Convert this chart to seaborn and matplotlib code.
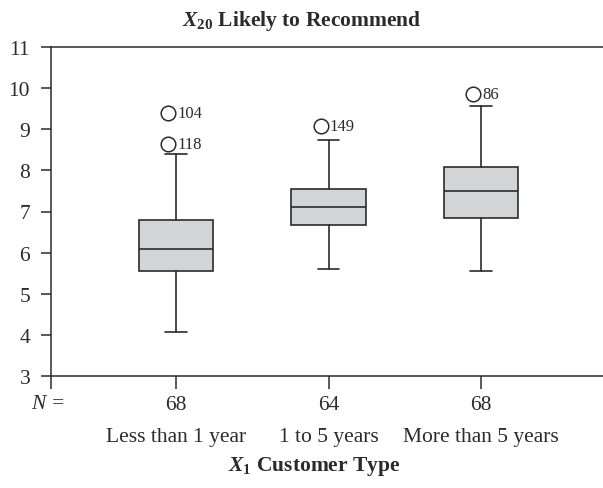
import matplotlib
matplotlib.use("Agg")
import matplotlib.pyplot as plt
import matplotlib.transforms as mtransforms
import seaborn as sns

# Summary statistics of X20 (Likely to Recommend) by customer type
categories = ["Less than 1 year", "1 to 5 years", "More than 5 years"]
counts = [68, 64, 68]
q1 = [5.55, 6.68, 6.84]
medians = [6.10, 7.10, 7.50]
q3 = [6.80, 7.55, 8.09]
whisker_low = [4.07, 5.60, 5.55]
whisker_high = [8.40, 8.75, 9.56]
outlier_values = [[9.40, 8.65], [9.08], [9.85]]
outlier_ids = [["104", "118"], ["149"], ["86"]]
y_ticks = [3, 4, 5, 6, 7, 8, 9, 10, 11]

sns.set_theme(style="ticks")
plt.rcParams["font.family"] = ["Liberation Serif", "DejaVu Serif"]
plt.rcParams["mathtext.fontset"] = "custom"
plt.rcParams["mathtext.rm"] = "Liberation Serif:bold"
plt.rcParams["mathtext.it"] = "Liberation Serif:italic:bold"
plt.rcParams["mathtext.bf"] = "Liberation Serif:bold"

ink = "#2b2b2b"
fs = 15.5
fig = plt.figure(figsize=(6.03, 4.89), dpi=100)
ax = fig.add_axes([51 / 603, 1 - 377 / 489, 552 / 603, 329 / 489])

stats = []
for i in range(len(categories)):
    stats.append({
        "label": categories[i],
        "q1": q1[i], "med": medians[i], "q3": q3[i],
        "whislo": whisker_low[i], "whishi": whisker_high[i],
        "fliers": [],
    })

positions = list(range(len(categories)))
ax.bxp(
    stats, positions=positions, widths=0.49, capwidths=0.14,
    patch_artist=True, manage_ticks=False, showfliers=False,
    boxprops=dict(facecolor="#d3d4d6", edgecolor=ink, linewidth=1.2),
    medianprops=dict(color=ink, linewidth=1.2),
    whiskerprops=dict(color=ink, linewidth=1.2),
    capprops=dict(color=ink, linewidth=1.2),
)

# Outlying cases: open circle set just left of the whisker line, case number to the right
shift = ax.transData + mtransforms.ScaledTranslation(-8 / 100, 0, fig.dpi_scale_trans)
for pos, vals, ids in zip(positions, outlier_values, outlier_ids):
    ax.plot([pos] * len(vals), vals, linestyle="none", marker="o", markersize=10.5,
            markerfacecolor="none", markeredgecolor=ink, markeredgewidth=1.1,
            transform=shift)
    for v, case in zip(vals, ids):
        ax.annotate(case, (pos, v), xytext=(1, 0), textcoords="offset points",
                    va="center", ha="left", fontsize=12, color=ink)

xmin, xmax = -0.82, 2.80
ax.set_xlim(xmin, xmax)
ax.set_ylim(3, 11)
ax.set_yticks(y_ticks)
ax.set_yticklabels([str(t) for t in y_ticks], fontsize=fs, color=ink)
ax.set_xticks([xmin] + positions)
ax.set_xticklabels([""] + [str(n) for n in counts], fontsize=fs, color=ink)
ax.tick_params(axis="y", length=7, width=1.1, pad=8, color=ink)
ax.tick_params(axis="x", length=9, width=1.1, pad=5, color=ink)

for side in ["left", "top", "bottom"]:
    ax.spines[side].set_color(ink)
    ax.spines[side].set_linewidth(1.1)
ax.spines["right"].set_visible(False)
ax.set_facecolor("white")

# Category names under the group sizes
trans = mtransforms.blended_transform_factory(ax.transData, ax.transAxes)
for pos, name in zip(positions, categories):
    ax.text(pos, -0.185, name, transform=trans, ha="center", va="center",
            fontsize=fs, color=ink)

fig.text(48 / 603, 1 - 405 / 489, "N =", ha="center", va="center",
         fontsize=fs, fontstyle="italic", color=ink)
fig.text(0.5, 1 - 21 / 489, r"$\mathit{X}_{\mathbf{20}}$ Likely to Recommend",
         ha="center", va="center", fontsize=fs, fontweight="bold", color=ink)
fig.text(314 / 603, 1 - 467 / 489, r"$\mathit{X}_{\mathbf{1}}$ Customer Type",
         ha="center", va="center", fontsize=fs, fontweight="bold", color=ink)

fig.savefig("out.png", dpi=100, facecolor="white")
